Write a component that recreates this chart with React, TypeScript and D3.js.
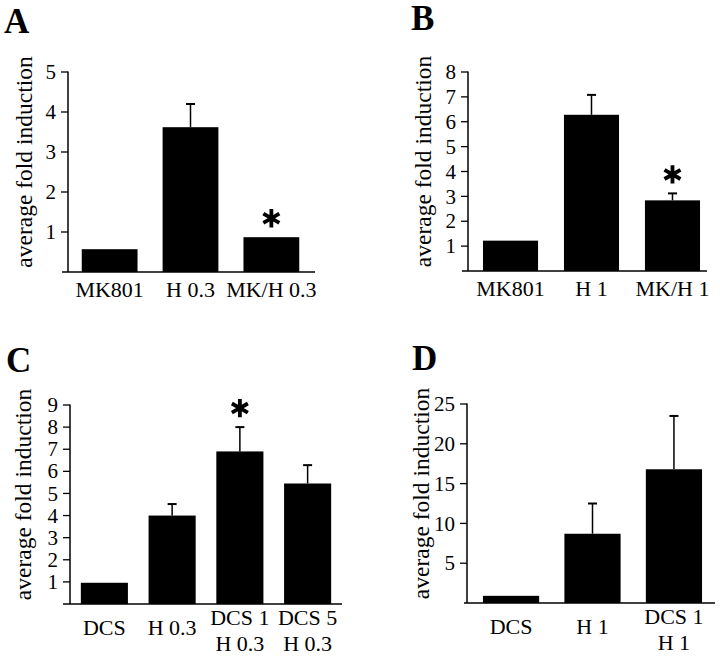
import React from "react";
import * as d3 from "d3";

// ---- Data ----
const catsA = [["MK801"], ["H 0.3"], ["MK/H 0.3"]];
const valsA = [0.57, 3.62, 0.87];
const errA = [0, 0.58, 0];
const sigA = [false, false, true];
const ticksA = [1, 2, 3, 4, 5];

const catsB = [["MK801"], ["H 1"], ["MK/H 1"]];
const valsB = [1.22, 6.28, 2.84];
const errB = [0, 0.8, 0.28];
const sigB = [false, false, true];
const ticksB = [1, 2, 3, 4, 5, 6, 7, 8];

const catsC = [["DCS"], ["H 0.3"], ["DCS 1", "H 0.3"], ["DCS 5", "H 0.3"]];
const valsC = [0.96, 4.0, 6.9, 5.45];
const errC = [0, 0.52, 1.1, 0.83];
const sigC = [false, false, true, false];
const ticksC = [1, 2, 3, 4, 5, 6, 7, 8, 9];

const catsD = [["DCS"], ["H 1"], ["DCS 1", "H 1"]];
const valsD = [0.9, 8.7, 16.8];
const errD = [0, 3.8, 6.7];
const sigD = [false, false, false];
const ticksD = [5, 10, 15, 20, 25];

const yLabel = "average fold induction";
const FONT = "'Liberation Serif', 'Times New Roman', Times, serif";

const panels = [
  { letter: "A", lx: 4, ly: 33, cats: catsA, vals: valsA, errs: errA, sig: sigA, ticks: ticksA,
    yMax: 5, y0: 272, yTop: 72, axisX: 68, bandEnd: 313, pi: 0.31, po: 0.17, lineStart: 62, lineEnd: 315, labX: 32 },
  { letter: "B", lx: 411, ly: 30, cats: catsB, vals: valsB, errs: errB, sig: sigB, ticks: ticksB,
    yMax: 8, y0: 271, yTop: 72, axisX: 468, bandEnd: 715, pi: 0.32, po: 0.185, lineStart: 462, lineEnd: 707, labX: 431 },
  { letter: "C", lx: 6, ly: 372, cats: catsC, vals: valsC, errs: errC, sig: sigC, ticks: ticksC,
    yMax: 9, y0: 604, yTop: 405, axisX: 70, bandEnd: 342, pi: 0.305, po: 0.16, lineStart: 63, lineEnd: 342, labX: 31 },
  { letter: "D", lx: 412, ly: 370, cats: catsD, vals: valsD, errs: errD, sig: sigD, ticks: ticksD,
    yMax: 25, y0: 603, yTop: 404, axisX: 467, bandEnd: 718, pi: 0.31, po: 0.196, lineStart: 464, lineEnd: 715, labX: 429 },
];

const asteriskPath = d3.symbol(d3.symbolAsterisk, 240)() as string;

function Panel({ p }: { p: any }) {
  const y = d3.scaleLinear().domain([0, p.yMax]).range([p.y0, p.yTop]);
  const x = d3
    .scaleBand<number>()
    .domain(p.cats.map((_: any, i: number) => i))
    .range([p.axisX, p.bandEnd])
    .paddingInner(p.pi)
    .paddingOuter(p.po);
  const bw = x.bandwidth();
  const twoLine = p.cats.some((c: string[]) => c.length > 1);
  const lineGap = 25.5;
  const firstLineY = (n: number) => {
    if (!twoLine) return p.y0 + 25;
    if (n === 1) return p.y0 + 31;
    return p.y0 + 21;
  };
  return (
    <g>
      <text x={p.lx} y={p.ly} fontFamily={FONT} fontSize={35} fontWeight="bold">
        {p.letter}
      </text>
      <text
        transform={`translate(${p.labX},${(p.y0 + p.yTop) / 2 - 10}) rotate(-90)`}
        textAnchor="middle"
        fontFamily={FONT}
        fontSize={23.5}
      >
        {yLabel}
      </text>
      {/* bars */}
      {p.vals.map((v: number, i: number) => (
        <rect key={"b" + i} x={x(i)} y={y(v)} width={bw} height={y(0) - y(v)} fill="#000" />
      ))}
      {/* error bars */}
      {p.vals.map((v: number, i: number) =>
        p.errs[i] > 0 ? (
          <g key={"e" + i} stroke="#000">
            <line x1={x(i)! + bw / 2} x2={x(i)! + bw / 2} y1={y(v)} y2={y(v + p.errs[i])} strokeWidth={1.5} />
            <line x1={x(i)! + bw / 2 - 4.5} x2={x(i)! + bw / 2 + 4.5} y1={y(v + p.errs[i])} y2={y(v + p.errs[i])} strokeWidth={2} />
          </g>
        ) : null
      )}
      {/* significance */}
      {p.vals.map((v: number, i: number) =>
        p.sig[i] ? (
          <path
            key={"s" + i}
            d={asteriskPath}
            transform={`translate(${x(i)! + bw / 2},${y(v + p.errs[i]) - 19})`}
            stroke="#000"
            strokeWidth={3.8}
            fill="none"
          />
        ) : null
      )}
      {/* y axis */}
      <line x1={p.axisX} x2={p.axisX} y1={y(p.yMax) - 0.5} y2={y(0)} stroke="#000" strokeWidth={1.5} />
      {p.ticks.map((t: number) => (
        <g key={"t" + t}>
          <line x1={p.axisX - 7} x2={p.axisX} y1={y(t)} y2={y(t)} stroke="#000" strokeWidth={1.3} />
          <text x={p.axisX - 12} y={y(t)} dy="0.34em" textAnchor="end" fontFamily={FONT} fontSize={21}>
            {t}
          </text>
        </g>
      ))}
      {/* x axis */}
      <line x1={p.lineStart} x2={p.lineEnd} y1={y(0)} y2={y(0)} stroke="#000" strokeWidth={1.6} />
      {p.cats.map((c: string[], i: number) => (
        <text
          key={"c" + i}
          x={x(i)! + bw / 2}
          y={firstLineY(c.length)}
          textAnchor="middle"
          fontFamily={FONT}
          fontSize={22}
        >
          {c.map((line: string, k: number) => (
            <tspan key={k} x={x(i)! + bw / 2} dy={k === 0 ? 0 : lineGap}>
              {line}
            </tspan>
          ))}
        </text>
      ))}
    </g>
  );
}

export default function App() {
  return (
    <svg
      width={720}
      height={656}
      viewBox="0 0 720 656"
      style={{ position: "absolute", left: 0, top: 0, background: "#fff" }}
    >
      <rect x={0} y={0} width={720} height={656} fill="#fff" />
      {panels.map((p) => (
        <Panel key={p.letter} p={p} />
      ))}
    </svg>
  );
}
